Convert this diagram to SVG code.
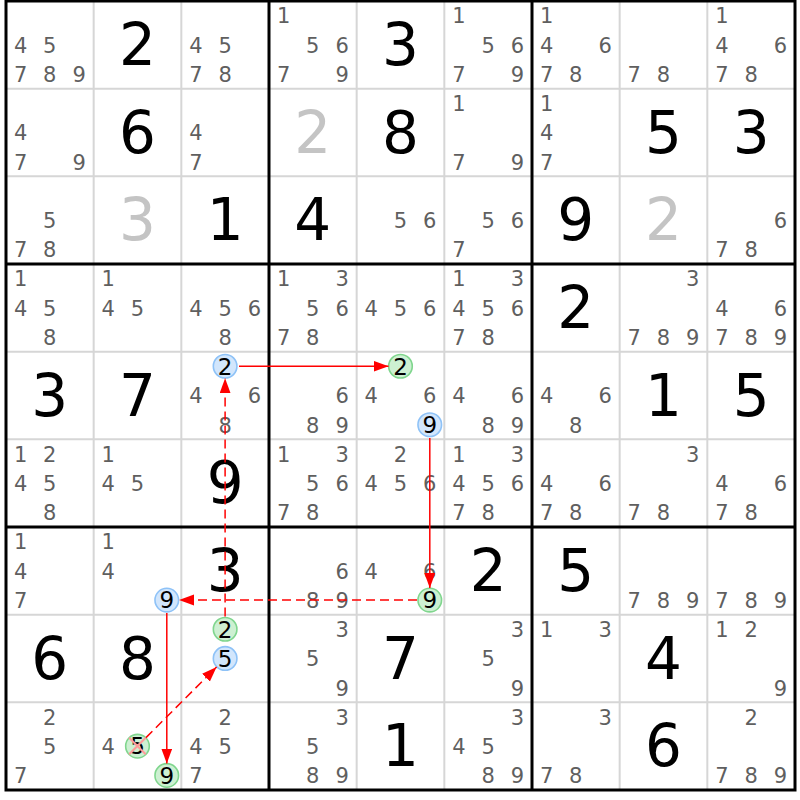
<svg xmlns="http://www.w3.org/2000/svg" width="800" height="800" viewBox="0 0 800 800">
<style>
text{font-family:"DejaVu Sans","Liberation Sans",sans-serif;text-anchor:middle}
.c{font-size:21px;fill:#5f5f5f}
.g{font-size:58px;fill:#000}
.s{font-size:58px;fill:#c4c4c4}
.k{font-size:23px;fill:#000}
.cb{fill:#d2e6fc;stroke:#8ec2f7;stroke-width:1.6}
.cg{fill:#cdf0d2;stroke:#80d68e;stroke-width:1.6}
.thin{stroke:#d6d6d6;stroke-width:2}
.thick{stroke:#000;stroke-width:3;fill:none}
.ar{stroke:#ff0000;stroke-width:1.5;fill:none}
.dash{stroke-dasharray:9 5}
.x{stroke:#ff9a9a;stroke-width:2}
</style>
<defs>
<marker id="ah" markerUnits="userSpaceOnUse" markerWidth="16" markerHeight="12" refX="15" refY="5.5" orient="auto"><path d="M0,0 L15,5.5 L0,11 z" fill="#ff0000"/></marker>
</defs>
<rect width="800" height="800" fill="#fff"/>
<g id="grid">
<path class="thin" d="M93.67,1V790M181.33,1V790M356.67,1V790M444.33,1V790M619.67,1V790M707.33,1V790M6,88.67H795M6,176.33H795M6,351.67H795M6,439.33H795M6,614.67H795M6,702.33H795"/>
<path class="thick" d="M269,1V790M532,1V790M6,264H795M6,527H795"/>
<rect class="thick" x="6" y="1" width="789" height="789"/>
</g>
<!-- row 1 -->
<g id="r1c1" transform="translate(6,1)"><text class="c" x="14.6" y="51.6">4</text><text class="c" x="43.8" y="51.6">5</text><text class="c" x="14.6" y="80.9">7</text><text class="c" x="43.8" y="80.9">8</text><text class="c" x="73.1" y="80.9">9</text></g>
<g id="r1c2" transform="translate(93.67,1)"><text class="g" x="43.8" y="64">2</text></g>
<g id="r1c3" transform="translate(181.33,1)"><text class="c" x="14.6" y="51.6">4</text><text class="c" x="43.8" y="51.6">5</text><text class="c" x="14.6" y="80.9">7</text><text class="c" x="43.8" y="80.9">8</text></g>
<g id="r1c4" transform="translate(269,1)"><text class="c" x="14.6" y="22.4">1</text><text class="c" x="43.8" y="51.6">5</text><text class="c" x="73.1" y="51.6">6</text><text class="c" x="14.6" y="80.9">7</text><text class="c" x="73.1" y="80.9">9</text></g>
<g id="r1c5" transform="translate(356.67,1)"><text class="g" x="43.8" y="64">3</text></g>
<g id="r1c6" transform="translate(444.33,1)"><text class="c" x="14.6" y="22.4">1</text><text class="c" x="43.8" y="51.6">5</text><text class="c" x="73.1" y="51.6">6</text><text class="c" x="14.6" y="80.9">7</text><text class="c" x="73.1" y="80.9">9</text></g>
<g id="r1c7" transform="translate(532,1)"><text class="c" x="14.6" y="22.4">1</text><text class="c" x="14.6" y="51.6">4</text><text class="c" x="73.1" y="51.6">6</text><text class="c" x="14.6" y="80.9">7</text><text class="c" x="43.8" y="80.9">8</text></g>
<g id="r1c8" transform="translate(619.67,1)"><text class="c" x="14.6" y="80.9">7</text><text class="c" x="43.8" y="80.9">8</text></g>
<g id="r1c9" transform="translate(707.33,1)"><text class="c" x="14.6" y="22.4">1</text><text class="c" x="14.6" y="51.6">4</text><text class="c" x="73.1" y="51.6">6</text><text class="c" x="14.6" y="80.9">7</text><text class="c" x="43.8" y="80.9">8</text></g>
<!-- row 2 -->
<g id="r2c1" transform="translate(6,88.67)"><text class="c" x="14.6" y="51.6">4</text><text class="c" x="14.6" y="80.9">7</text><text class="c" x="73.1" y="80.9">9</text></g>
<g id="r2c2" transform="translate(93.67,88.67)"><text class="g" x="43.8" y="64">6</text></g>
<g id="r2c3" transform="translate(181.33,88.67)"><text class="c" x="14.6" y="51.6">4</text><text class="c" x="14.6" y="80.9">7</text></g>
<g id="r2c4" transform="translate(269,88.67)"><text class="s" x="43.8" y="64">2</text></g>
<g id="r2c5" transform="translate(356.67,88.67)"><text class="g" x="43.8" y="64">8</text></g>
<g id="r2c6" transform="translate(444.33,88.67)"><text class="c" x="14.6" y="22.4">1</text><text class="c" x="14.6" y="80.9">7</text><text class="c" x="73.1" y="80.9">9</text></g>
<g id="r2c7" transform="translate(532,88.67)"><text class="c" x="14.6" y="22.4">1</text><text class="c" x="14.6" y="51.6">4</text><text class="c" x="14.6" y="80.9">7</text></g>
<g id="r2c8" transform="translate(619.67,88.67)"><text class="g" x="43.8" y="64">5</text></g>
<g id="r2c9" transform="translate(707.33,88.67)"><text class="g" x="43.8" y="64">3</text></g>
<!-- row 3 -->
<g id="r3c1" transform="translate(6,176.33)"><text class="c" x="43.8" y="51.6">5</text><text class="c" x="14.6" y="80.9">7</text><text class="c" x="43.8" y="80.9">8</text></g>
<g id="r3c2" transform="translate(93.67,176.33)"><text class="s" x="43.8" y="64">3</text></g>
<g id="r3c3" transform="translate(181.33,176.33)"><text class="g" x="43.8" y="64">1</text></g>
<g id="r3c4" transform="translate(269,176.33)"><text class="g" x="43.8" y="64">4</text></g>
<g id="r3c5" transform="translate(356.67,176.33)"><text class="c" x="43.8" y="51.6">5</text><text class="c" x="73.1" y="51.6">6</text></g>
<g id="r3c6" transform="translate(444.33,176.33)"><text class="c" x="43.8" y="51.6">5</text><text class="c" x="73.1" y="51.6">6</text><text class="c" x="14.6" y="80.9">7</text></g>
<g id="r3c7" transform="translate(532,176.33)"><text class="g" x="43.8" y="64">9</text></g>
<g id="r3c8" transform="translate(619.67,176.33)"><text class="s" x="43.8" y="64">2</text></g>
<g id="r3c9" transform="translate(707.33,176.33)"><text class="c" x="73.1" y="51.6">6</text><text class="c" x="14.6" y="80.9">7</text><text class="c" x="43.8" y="80.9">8</text></g>
<!-- row 4 -->
<g id="r4c1" transform="translate(6,264)"><text class="c" x="14.6" y="22.4">1</text><text class="c" x="14.6" y="51.6">4</text><text class="c" x="43.8" y="51.6">5</text><text class="c" x="43.8" y="80.9">8</text></g>
<g id="r4c2" transform="translate(93.67,264)"><text class="c" x="14.6" y="22.4">1</text><text class="c" x="14.6" y="51.6">4</text><text class="c" x="43.8" y="51.6">5</text></g>
<g id="r4c3" transform="translate(181.33,264)"><text class="c" x="14.6" y="51.6">4</text><text class="c" x="43.8" y="51.6">5</text><text class="c" x="73.1" y="51.6">6</text><text class="c" x="43.8" y="80.9">8</text></g>
<g id="r4c4" transform="translate(269,264)"><text class="c" x="14.6" y="22.4">1</text><text class="c" x="73.1" y="22.4">3</text><text class="c" x="43.8" y="51.6">5</text><text class="c" x="73.1" y="51.6">6</text><text class="c" x="14.6" y="80.9">7</text><text class="c" x="43.8" y="80.9">8</text></g>
<g id="r4c5" transform="translate(356.67,264)"><text class="c" x="14.6" y="51.6">4</text><text class="c" x="43.8" y="51.6">5</text><text class="c" x="73.1" y="51.6">6</text></g>
<g id="r4c6" transform="translate(444.33,264)"><text class="c" x="14.6" y="22.4">1</text><text class="c" x="73.1" y="22.4">3</text><text class="c" x="14.6" y="51.6">4</text><text class="c" x="43.8" y="51.6">5</text><text class="c" x="73.1" y="51.6">6</text><text class="c" x="14.6" y="80.9">7</text><text class="c" x="43.8" y="80.9">8</text></g>
<g id="r4c7" transform="translate(532,264)"><text class="g" x="43.8" y="64">2</text></g>
<g id="r4c8" transform="translate(619.67,264)"><text class="c" x="73.1" y="22.4">3</text><text class="c" x="14.6" y="80.9">7</text><text class="c" x="43.8" y="80.9">8</text><text class="c" x="73.1" y="80.9">9</text></g>
<g id="r4c9" transform="translate(707.33,264)"><text class="c" x="14.6" y="51.6">4</text><text class="c" x="73.1" y="51.6">6</text><text class="c" x="14.6" y="80.9">7</text><text class="c" x="43.8" y="80.9">8</text><text class="c" x="73.1" y="80.9">9</text></g>
<!-- row 5 -->
<g id="r5c1" transform="translate(6,351.67)"><text class="g" x="43.8" y="64">3</text></g>
<g id="r5c2" transform="translate(93.67,351.67)"><text class="g" x="43.8" y="64">7</text></g>
<g id="r5c3" transform="translate(181.33,351.67)"><circle class="cb" cx="43.8" cy="14.6" r="11.8"/><text class="k" x="43.8" y="22.9">2</text><text class="c" x="14.6" y="51.6">4</text><text class="c" x="73.1" y="51.6">6</text><text class="c" x="43.8" y="80.9">8</text></g>
<g id="r5c4" transform="translate(269,351.67)"><text class="c" x="73.1" y="51.6">6</text><text class="c" x="43.8" y="80.9">8</text><text class="c" x="73.1" y="80.9">9</text></g>
<g id="r5c5" transform="translate(356.67,351.67)"><circle class="cg" cx="43.8" cy="14.6" r="11.8"/><text class="k" x="43.8" y="22.9">2</text><text class="c" x="14.6" y="51.6">4</text><text class="c" x="73.1" y="51.6">6</text><circle class="cb" cx="73.1" cy="73.1" r="11.8"/><text class="k" x="73.1" y="81.4">9</text></g>
<g id="r5c6" transform="translate(444.33,351.67)"><text class="c" x="14.6" y="51.6">4</text><text class="c" x="73.1" y="51.6">6</text><text class="c" x="43.8" y="80.9">8</text><text class="c" x="73.1" y="80.9">9</text></g>
<g id="r5c7" transform="translate(532,351.67)"><text class="c" x="14.6" y="51.6">4</text><text class="c" x="73.1" y="51.6">6</text><text class="c" x="43.8" y="80.9">8</text></g>
<g id="r5c8" transform="translate(619.67,351.67)"><text class="g" x="43.8" y="64">1</text></g>
<g id="r5c9" transform="translate(707.33,351.67)"><text class="g" x="43.8" y="64">5</text></g>
<!-- row 6 -->
<g id="r6c1" transform="translate(6,439.33)"><text class="c" x="14.6" y="22.4">1</text><text class="c" x="43.8" y="22.4">2</text><text class="c" x="14.6" y="51.6">4</text><text class="c" x="43.8" y="51.6">5</text><text class="c" x="43.8" y="80.9">8</text></g>
<g id="r6c2" transform="translate(93.67,439.33)"><text class="c" x="14.6" y="22.4">1</text><text class="c" x="14.6" y="51.6">4</text><text class="c" x="43.8" y="51.6">5</text></g>
<g id="r6c3" transform="translate(181.33,439.33)"><text class="g" x="43.8" y="64">9</text></g>
<g id="r6c4" transform="translate(269,439.33)"><text class="c" x="14.6" y="22.4">1</text><text class="c" x="73.1" y="22.4">3</text><text class="c" x="43.8" y="51.6">5</text><text class="c" x="73.1" y="51.6">6</text><text class="c" x="14.6" y="80.9">7</text><text class="c" x="43.8" y="80.9">8</text></g>
<g id="r6c5" transform="translate(356.67,439.33)"><text class="c" x="43.8" y="22.4">2</text><text class="c" x="14.6" y="51.6">4</text><text class="c" x="43.8" y="51.6">5</text><text class="c" x="73.1" y="51.6">6</text></g>
<g id="r6c6" transform="translate(444.33,439.33)"><text class="c" x="14.6" y="22.4">1</text><text class="c" x="73.1" y="22.4">3</text><text class="c" x="14.6" y="51.6">4</text><text class="c" x="43.8" y="51.6">5</text><text class="c" x="73.1" y="51.6">6</text><text class="c" x="14.6" y="80.9">7</text><text class="c" x="43.8" y="80.9">8</text></g>
<g id="r6c7" transform="translate(532,439.33)"><text class="c" x="14.6" y="51.6">4</text><text class="c" x="73.1" y="51.6">6</text><text class="c" x="14.6" y="80.9">7</text><text class="c" x="43.8" y="80.9">8</text></g>
<g id="r6c8" transform="translate(619.67,439.33)"><text class="c" x="73.1" y="22.4">3</text><text class="c" x="14.6" y="80.9">7</text><text class="c" x="43.8" y="80.9">8</text></g>
<g id="r6c9" transform="translate(707.33,439.33)"><text class="c" x="14.6" y="51.6">4</text><text class="c" x="73.1" y="51.6">6</text><text class="c" x="14.6" y="80.9">7</text><text class="c" x="43.8" y="80.9">8</text></g>
<!-- row 7 -->
<g id="r7c1" transform="translate(6,527)"><text class="c" x="14.6" y="22.4">1</text><text class="c" x="14.6" y="51.6">4</text><text class="c" x="14.6" y="80.9">7</text></g>
<g id="r7c2" transform="translate(93.67,527)"><text class="c" x="14.6" y="22.4">1</text><text class="c" x="14.6" y="51.6">4</text><circle class="cb" cx="73.1" cy="73.1" r="11.8"/><text class="k" x="73.1" y="81.4">9</text></g>
<g id="r7c3" transform="translate(181.33,527)"><text class="g" x="43.8" y="64">3</text></g>
<g id="r7c4" transform="translate(269,527)"><text class="c" x="73.1" y="51.6">6</text><text class="c" x="43.8" y="80.9">8</text><text class="c" x="73.1" y="80.9">9</text></g>
<g id="r7c5" transform="translate(356.67,527)"><text class="c" x="14.6" y="51.6">4</text><text class="c" x="73.1" y="51.6">6</text><circle class="cg" cx="73.1" cy="73.1" r="11.8"/><text class="k" x="73.1" y="81.4">9</text></g>
<g id="r7c6" transform="translate(444.33,527)"><text class="g" x="43.8" y="64">2</text></g>
<g id="r7c7" transform="translate(532,527)"><text class="g" x="43.8" y="64">5</text></g>
<g id="r7c8" transform="translate(619.67,527)"><text class="c" x="14.6" y="80.9">7</text><text class="c" x="43.8" y="80.9">8</text><text class="c" x="73.1" y="80.9">9</text></g>
<g id="r7c9" transform="translate(707.33,527)"><text class="c" x="14.6" y="80.9">7</text><text class="c" x="43.8" y="80.9">8</text><text class="c" x="73.1" y="80.9">9</text></g>
<!-- row 8 -->
<g id="r8c1" transform="translate(6,614.67)"><text class="g" x="43.8" y="64">6</text></g>
<g id="r8c2" transform="translate(93.67,614.67)"><text class="g" x="43.8" y="64">8</text></g>
<g id="r8c3" transform="translate(181.33,614.67)"><circle class="cg" cx="43.8" cy="14.6" r="11.8"/><text class="k" x="43.8" y="22.9">2</text><circle class="cb" cx="43.8" cy="43.8" r="11.8"/><text class="k" x="43.8" y="52.1">5</text></g>
<g id="r8c4" transform="translate(269,614.67)"><text class="c" x="73.1" y="22.4">3</text><text class="c" x="43.8" y="51.6">5</text><text class="c" x="73.1" y="80.9">9</text></g>
<g id="r8c5" transform="translate(356.67,614.67)"><text class="g" x="43.8" y="64">7</text></g>
<g id="r8c6" transform="translate(444.33,614.67)"><text class="c" x="73.1" y="22.4">3</text><text class="c" x="43.8" y="51.6">5</text><text class="c" x="73.1" y="80.9">9</text></g>
<g id="r8c7" transform="translate(532,614.67)"><text class="c" x="14.6" y="22.4">1</text><text class="c" x="73.1" y="22.4">3</text></g>
<g id="r8c8" transform="translate(619.67,614.67)"><text class="g" x="43.8" y="64">4</text></g>
<g id="r8c9" transform="translate(707.33,614.67)"><text class="c" x="14.6" y="22.4">1</text><text class="c" x="43.8" y="22.4">2</text><text class="c" x="73.1" y="80.9">9</text></g>
<!-- row 9 -->
<g id="r9c1" transform="translate(6,702.33)"><text class="c" x="43.8" y="22.4">2</text><text class="c" x="43.8" y="51.6">5</text><text class="c" x="14.6" y="80.9">7</text></g>
<g id="r9c2" transform="translate(93.67,702.33)"><text class="c" x="14.6" y="51.6">4</text><circle class="cg" cx="43.8" cy="43.8" r="11.8"/><text class="k" x="43.8" y="52.1">5</text><path class="x" d="M35.5,35.5L52,52M52,35.5L35.5,52"/><circle class="cg" cx="73.1" cy="73.1" r="11.8"/><text class="k" x="73.1" y="81.4">9</text></g>
<g id="r9c3" transform="translate(181.33,702.33)"><text class="c" x="43.8" y="22.4">2</text><text class="c" x="14.6" y="51.6">4</text><text class="c" x="43.8" y="51.6">5</text><text class="c" x="14.6" y="80.9">7</text></g>
<g id="r9c4" transform="translate(269,702.33)"><text class="c" x="73.1" y="22.4">3</text><text class="c" x="43.8" y="51.6">5</text><text class="c" x="43.8" y="80.9">8</text><text class="c" x="73.1" y="80.9">9</text></g>
<g id="r9c5" transform="translate(356.67,702.33)"><text class="g" x="43.8" y="64">1</text></g>
<g id="r9c6" transform="translate(444.33,702.33)"><text class="c" x="73.1" y="22.4">3</text><text class="c" x="14.6" y="51.6">4</text><text class="c" x="43.8" y="51.6">5</text><text class="c" x="43.8" y="80.9">8</text><text class="c" x="73.1" y="80.9">9</text></g>
<g id="r9c7" transform="translate(532,702.33)"><text class="c" x="73.1" y="22.4">3</text><text class="c" x="14.6" y="80.9">7</text><text class="c" x="43.8" y="80.9">8</text></g>
<g id="r9c8" transform="translate(619.67,702.33)"><text class="g" x="43.8" y="64">6</text></g>
<g id="r9c9" transform="translate(707.33,702.33)"><text class="c" x="43.8" y="22.4">2</text><text class="c" x="14.6" y="80.9">7</text><text class="c" x="43.8" y="80.9">8</text><text class="c" x="73.1" y="80.9">9</text></g>
<g id="connectors">
<path class="ar" d="M239,366.3H388.5" marker-end="url(#ah)"/>
<path class="ar" d="M429.8,438V588" marker-end="url(#ah)"/>
<path class="ar dash" d="M417,600.1H179" marker-end="url(#ah)"/>
<path class="ar" d="M166.8,613V763.5" marker-end="url(#ah)"/>
<path class="ar dash" d="M146,737.6L216.6,667" marker-end="url(#ah)"/>
<path class="ar dash" d="M225.1,616.5V378.3" marker-end="url(#ah)"/>
</g>
</svg>
